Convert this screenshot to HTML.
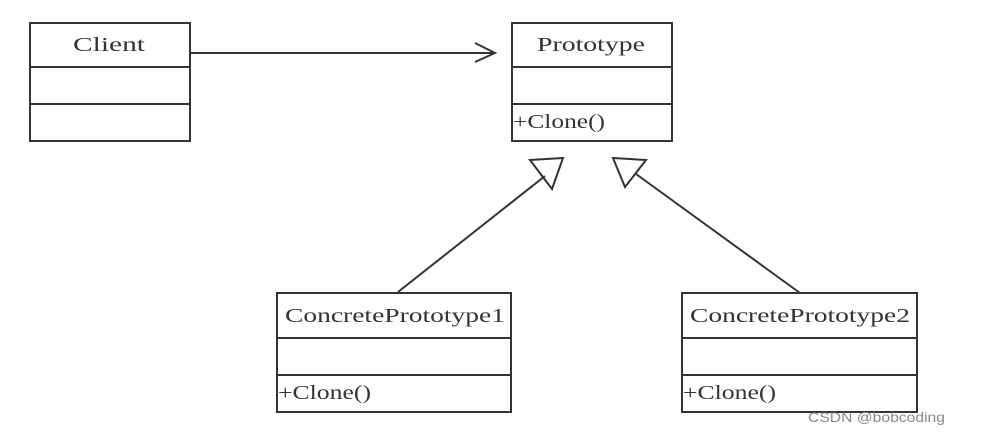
<!DOCTYPE html>
<html><head><meta charset="utf-8"><style>
html,body{margin:0;padding:0;background:#fff;}
svg{display:block;}
text{font-family:"Liberation Serif","Noto Serif CJK SC",serif;fill:#333;font-size:20px;}
</style></head><body>
<svg width="995" height="438" viewBox="0 0 995 438" xmlns="http://www.w3.org/2000/svg">
<g fill="none" stroke="#333" stroke-width="2">
<rect x="30" y="23" width="160" height="118"/>
<line x1="30" y1="67" x2="190" y2="67"/>
<line x1="30" y1="104" x2="190" y2="104"/>
<rect x="512" y="23" width="160" height="118"/>
<line x1="512" y1="67" x2="672" y2="67"/>
<line x1="512" y1="104" x2="672" y2="104"/>
<rect x="277" y="293" width="234" height="119"/>
<line x1="277" y1="338" x2="511" y2="338"/>
<line x1="277" y1="375" x2="511" y2="375"/>
<rect x="682" y="293" width="235" height="119"/>
<line x1="682" y1="338" x2="917" y2="338"/>
<line x1="682" y1="375" x2="917" y2="375"/>
<line x1="190" y1="53" x2="495" y2="53"/>
<polyline points="475,43 495,53 475,62"/>
<polygon points="530,160 563,158 552,189"/>
<line x1="545" y1="176" x2="398" y2="292"/>
<polygon points="613,158 646,160 625,187"/>
<line x1="636" y1="174" x2="800" y2="293"/>
</g>
<text x="73" y="51" textLength="72" lengthAdjust="spacingAndGlyphs">Client</text>
<text x="537" y="51" textLength="108" lengthAdjust="spacingAndGlyphs">Prototype</text>
<text x="513" y="128" textLength="92" lengthAdjust="spacingAndGlyphs">+Clone()</text>
<text x="285" y="322" textLength="220" lengthAdjust="spacingAndGlyphs">ConcretePrototype1</text>
<text x="278" y="399" textLength="93" lengthAdjust="spacingAndGlyphs">+Clone()</text>
<text x="690" y="322" textLength="220" lengthAdjust="spacingAndGlyphs">ConcretePrototype2</text>
<text x="683" y="399" textLength="93" lengthAdjust="spacingAndGlyphs">+Clone()</text>
<text x="808" y="422" style="font-family:'Liberation Sans',sans-serif;font-size:14px;fill:#8a8a8a" textLength="137" lengthAdjust="spacingAndGlyphs">CSDN @bobcoding</text>
</svg>
</body></html>
